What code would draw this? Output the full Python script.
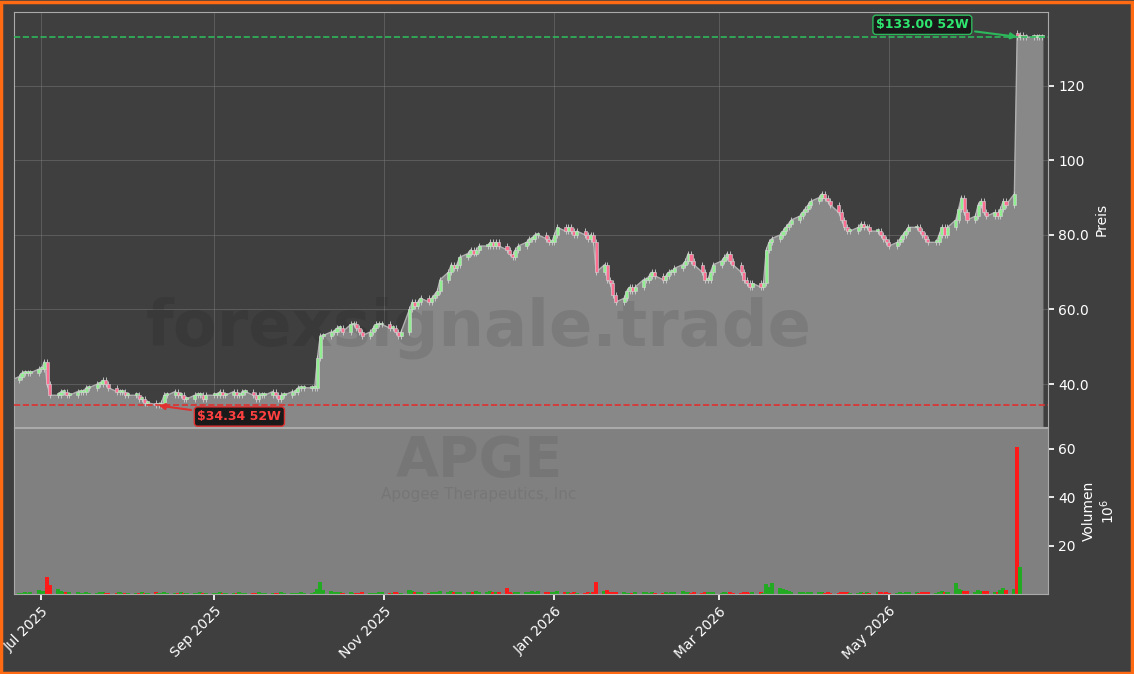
import numpy as np, pandas as pd, matplotlib
matplotlib.use("Agg")
import matplotlib.pyplot as plt, seaborn as sns, matplotlib.dates as mdates

sns.set_theme(style="dark")
plt.rcParams['font.family'] = ['DejaVu Sans']

start = "2025-06-20"
closes = [
 41,42,43,43,43,43,44,
 44,46,40,37,37,38,38,37,37,38,38,38,39,39,40,40,41,40,39,38,38,38,37,
 37,37,36,36,35,35,34.5,34.5,35,37,37,38,37,37,36,36,37,37,37,36,37,
 37,37,38,37,37,38,37,37,38,38,37,36,37,37,37,38,37,36,37,37,38,38,
 39,39,39,39,39,47,53,53,54,54,55,55,54,56,56,55,54,53,54,55,56,56,56,
 55,55,54,53,54,60,62,61,62,63,62,63,64,65,68,70,72,71,72,74,
 75,76,75,76,77,77,78,77,78,77,76,75,74,76,77,78,79,79,80,80,79,78,
 78,80,82,81,82,81,80,81,80,79,80,78,70,72,68,67,64,62,63,65,66,
 65,66,68,68,69,70,69,68,69,70,70,71,72,73,75,73,72,70,68,
 68,70,72,73,74,75,73,72,70,68,67,66,67,66,67,76,78,79,80,81,82,83,
 84,85,86,87,88,89,90,91,90,89,88,86,84,82,81,81,82,83,82,82,81,81,
 80,79,78,77,78,79,80,81,82,82,81,80,79,78,78,80,82,80,82,84,
 87,90,86,84,85,88,89,86,85,86,85,87,89,88,91,133,133.5,133,133,133,133,133,133,
]
gap_opens = {"2026-06-16": 134.0}
volumes = [
 0.5,0.5,0.5,0.6,0.5,0.8,1.5,
 1.2,1.0,7.0,3.5,2.0,1.0,0.8,0.7,0.6,0.6,0.5,0.5,0.6,0.5,0.5,0.6,0.7,0.5,0.5,0.5,0.6,0.5,0.5,
 0.5,0.5,0.5,0.6,0.5,0.5,0.6,0.5,0.5,0.6,0.5,0.5,0.5,0.6,0.5,0.5,0.5,0.5,0.6,0.5,0.5,
 0.5,0.5,0.6,0.5,0.5,0.5,0.5,0.6,0.5,0.5,0.5,0.5,0.8,0.5,0.5,0.5,0.5,0.5,0.6,0.5,0.5,0.5,
 0.5,0.6,0.5,0.5,0.8,2.0,5.0,1.5,1.0,0.8,0.6,0.6,0.5,0.6,0.5,0.5,0.5,0.6,0.5,0.5,0.5,0.8,0.6,
 0.5,0.5,0.6,0.5,0.5,1.5,1.0,0.8,0.6,0.6,0.5,0.8,0.6,0.6,1.0,0.8,1.0,0.8,0.6,0.8,
 0.6,0.8,0.6,1.0,0.8,0.8,1.0,0.6,0.8,0.6,2.5,0.6,0.5,0.6,0.8,0.6,0.6,1.0,0.8,1.2,0.8,0.6,
 0.6,0.8,1.0,0.8,0.6,0.5,0.6,0.5,0.5,0.6,0.5,0.6,5.0,1.0,1.5,0.8,0.6,0.8,0.6,0.5,0.5,
 0.5,0.6,0.8,0.6,0.5,0.6,0.5,0.5,0.6,0.5,0.6,0.8,1.0,0.8,0.6,0.5,0.6,0.5,0.8,
 0.6,0.8,0.6,0.5,0.6,0.5,0.6,0.5,0.5,0.6,0.8,0.5,0.8,0.6,0.5,4.0,3.0,4.5,2.5,2.0,1.5,1.0,
 0.6,0.8,0.6,0.5,0.6,0.6,0.8,0.6,0.5,0.6,0.5,0.5,0.6,0.8,0.6,0.5,0.5,0.6,0.5,0.6,0.5,0.8,
 0.6,0.5,0.6,0.5,0.5,0.6,0.5,0.6,0.8,0.6,0.5,0.6,0.8,0.6,0.5,0.6,1.0,0.8,0.6,4.5,
 2.0,1.5,1.2,1.0,0.8,1.5,1.2,1.0,1.0,0.8,0.8,1.5,2.5,1.5,2.0,61.0,11.0,0,0,0,0,0,0,
]
low_52w, high_52w = 34.34, 133.00
ticker, company = "APGE", "Apogee Therapeutics, Inc"

dates = pd.bdate_range(start, periods=len(closes))
df = pd.DataFrame({"date": dates, "close": closes, "vol": volumes})
df["open"] = df["close"].shift(1).fillna(closes[0])
for d, o in gap_opens.items():
    df.loc[df["date"] == pd.Timestamp(d), "open"] = o

BG = "#3f3f3f"
fig = plt.figure(figsize=(11.34, 6.74), dpi=100, facecolor=BG)
fig.patches.append(matplotlib.patches.Rectangle((0.001, 0.002), 0.997, 0.995, transform=fig.transFigure,
                   fill=False, edgecolor="#ff6a13", linewidth=2.5, zorder=10))
ax = fig.add_axes([0.012, 0.3665, 0.912, 0.6155], facecolor=BG)
axv = fig.add_axes([0.012, 0.119, 0.912, 0.246], facecolor="#808080", sharex=ax)

ax.fill_between(df["date"], df["close"], 0, color="#888888", zorder=1)
sns.lineplot(data=df, x="date", y="close", ax=ax, color="#b0b0b0", lw=1, zorder=2)
w = 1.1
for d, o, c in zip(df["date"], df["open"], df["close"]):
    up = c >= o
    col = "#90ee90" if up else "#ff6f91"
    ax.vlines(d, min(o, c) - 0.8, max(o, c) + 0.8, color="#d0d0d0", lw=0.6, zorder=2.5)
    ax.bar(d, max(abs(c - o), 0.5), bottom=min(o, c), width=w, color=col, edgecolor="#d8d8d8", lw=0.4, zorder=3)

ax.axhline(low_52w, color="#e03030", ls="--", lw=1.2, zorder=4)
ax.axhline(high_52w, color="#2eb85c", ls="--", lw=1.2, zorder=4)
lowd = df.loc[df["close"].idxmin(), "date"]
highd = df.loc[df["close"].idxmax(), "date"]
ax.annotate(f"${low_52w:.2f} 52W", xy=(lowd, low_52w), xytext=(pd.Timestamp("2025-09-10"), 31.3),
            color="#ff4040", fontsize=9, fontweight="bold", ha="center", va="center",
            bbox=dict(boxstyle="round,pad=0.25", fc="#1a1a1a", ec="#e03030"),
            arrowprops=dict(arrowstyle="-|>", color="#e03030", lw=1.5), zorder=6)
ax.annotate(f"${high_52w:.2f} 52W", xy=(highd, high_52w), xytext=(pd.Timestamp("2026-05-13"), 136.3),
            color="#2ee870", fontsize=9, fontweight="bold", ha="center", va="center",
            bbox=dict(boxstyle="round,pad=0.25", fc="#1a1a1a", ec="#2eb85c"),
            arrowprops=dict(arrowstyle="-|>", color="#2eb85c", lw=1.5), zorder=6)

ax.text(0.45, 0.24, "forexsignale.trade", transform=ax.transAxes, fontsize=46, fontweight="bold",
        color="black", alpha=0.09, ha="center", va="center", zorder=1.5)
axv.text(0.45, 0.8, ticker, transform=axv.transAxes, fontsize=40, fontweight="bold",
         color="black", alpha=0.07, ha="center", va="center")
axv.text(0.45, 0.6, company, transform=axv.transAxes, fontsize=11, color="black", alpha=0.07,
         ha="center", va="center")

vcol = ["#22aa22" if c >= o else "#ff1a1a" for o, c in zip(df["open"], df["close"])]
axv.bar(df["date"], df["vol"], width=1.5, color=vcol, edgecolor="none", linewidth=0, zorder=2)

xmin, xmax = pd.Timestamp("2025-06-21"), pd.Timestamp("2026-06-27")
ax.set_xlim(xmin, xmax)
ax.set_ylim(28.5, 139.7)
axv.set_ylim(0, 68.7)
for a in (ax, axv):
    a.yaxis.tick_right(); a.yaxis.set_label_position("right")
    a.tick_params(colors="white", labelsize=10, length=4, direction="out", right=True, left=False)
    for s in a.spines.values():
        s.set_color("#aaaaaa"); s.set_linewidth(0.8)
ax.grid(True, color="#777777", lw=0.6, alpha=0.6)
ax.set_yticks([40, 60, 80, 100, 120]); ax.set_yticklabels(["40.0", "60.0", "80.0", "100", "120"])
axv.set_yticks([20, 40, 60])
ax.set_ylabel("Preis", color="white", fontsize=10)
axv.set_ylabel("Volumen\n$10^6$", color="white", fontsize=10)
ax.set_xlabel(""); axv.set_xlabel("")
plt.setp(ax.get_xticklabels(), visible=False)
ax.tick_params(axis="x", length=0)
axv.xaxis.set_major_locator(mdates.MonthLocator(bymonth=[1, 3, 5, 7, 9, 11]))
axv.xaxis.set_major_formatter(mdates.DateFormatter("%b %Y"))
axv.tick_params(axis="x", colors="white", labelsize=10, bottom=True)
plt.setp(axv.get_xticklabels(), rotation=45, ha="right", rotation_mode="anchor")
fig.savefig("out.png", dpi=100, facecolor=BG)
